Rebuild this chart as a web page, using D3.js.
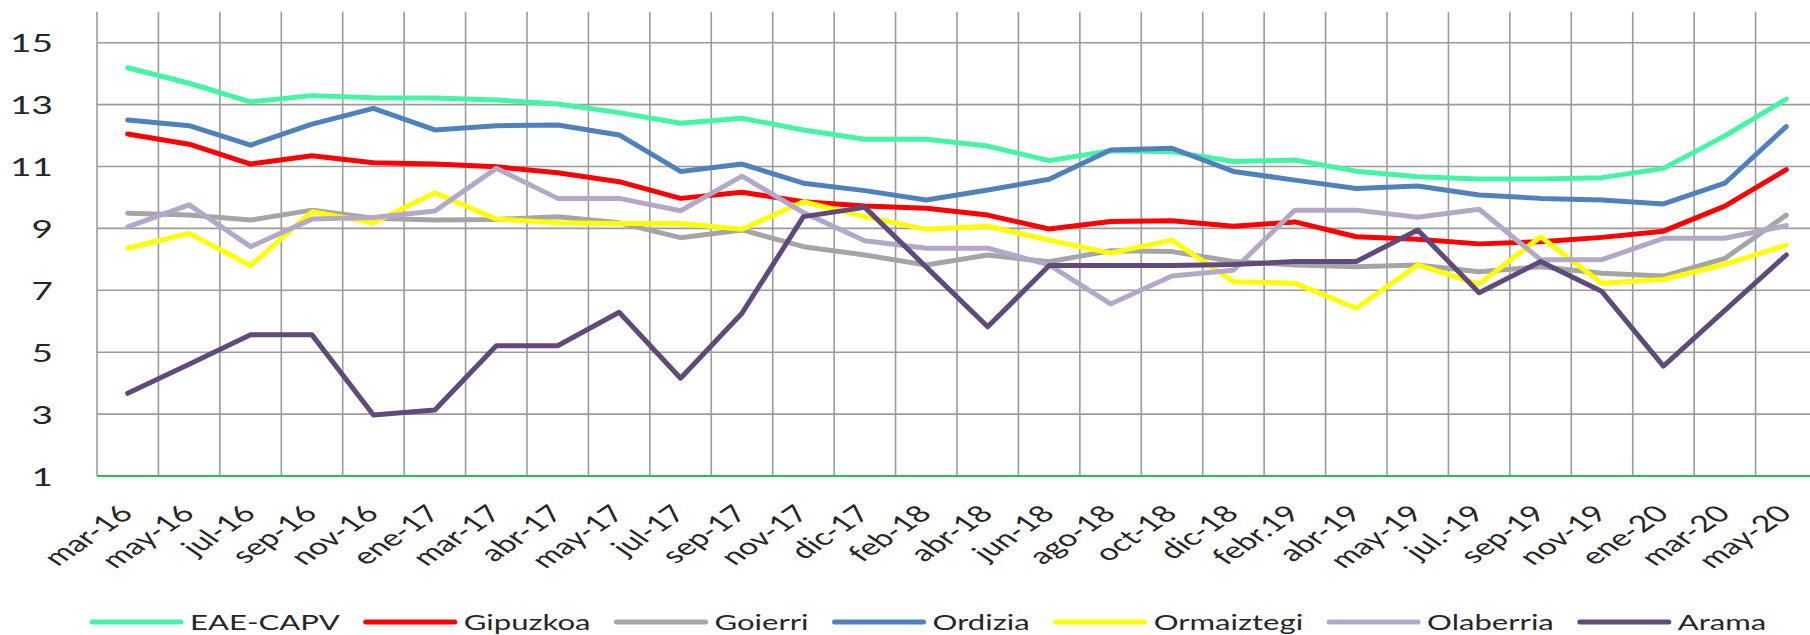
<!DOCTYPE html>
<html>
<head>
<meta charset="utf-8">
<script src="https://cdn.jsdelivr.net/npm/d3@7"></script>
<style>
  body { margin: 0; background: #fff; }
  svg { display: block; font-family: Lato, "Open Sans", sans-serif; }
</style>
</head>
<body>
<svg></svg>
<script>
let months = ["mar-16", "may-16", "jul-16", "sep-16", "nov-16", "ene-17", "mar-17", "abr-17", "may-17", "jul-17",
              "sep-17", "nov-17", "dic-17", "feb-18", "abr-18", "jun-18", "ago-18", "oct-18", "dic-18", "febr.19",
              "abr-19", "may-19", "jul.-19", "sep-19", "nov-19", "ene-20", "mar-20", "may-20"];

let eae =        [14.19, 13.69, 13.09, 13.29, 13.22, 13.21, 13.15, 13.02, 12.74, 12.40, 12.56, 12.18, 11.88, 11.88, 11.66, 11.19, 11.51, 11.48, 11.16, 11.21, 10.85, 10.67, 10.60, 10.60, 10.64, 10.94, 11.99, 13.18];
let gipuzkoa =   [12.05, 11.72, 11.08, 11.35, 11.12, 11.08, 10.99, 10.80, 10.51, 9.97, 10.17, 9.86, 9.72, 9.65, 9.43, 8.98, 9.22, 9.25, 9.07, 9.21, 8.73, 8.65, 8.50, 8.57, 8.71, 8.91, 9.72, 10.90];
let goierri =    [9.49, 9.43, 9.27, 9.59, 9.33, 9.27, 9.29, 9.38, 9.18, 8.70, 8.95, 8.41, 8.14, 7.82, 8.14, 7.92, 8.28, 8.25, 7.93, 7.82, 7.76, 7.82, 7.60, 7.76, 7.55, 7.46, 8.03, 9.43];
let ordizia =    [12.50, 12.32, 11.69, 12.37, 12.88, 12.18, 12.32, 12.34, 12.02, 10.84, 11.08, 10.46, 10.22, 9.92, 10.24, 10.59, 11.53, 11.59, 10.84, 10.56, 10.29, 10.37, 10.08, 9.97, 9.92, 9.79, 10.46, 12.29];
let ormaiztegi = [8.36, 8.84, 7.80, 9.54, 9.18, 10.15, 9.30, 9.18, 9.16, 9.16, 8.97, 9.86, 9.38, 8.97, 9.07, 8.62, 8.20, 8.62, 7.28, 7.23, 6.42, 7.82, 7.20, 8.73, 7.23, 7.35, 7.84, 8.46];
let olaberria =  [9.05, 9.76, 8.41, 9.30, 9.35, 9.56, 10.94, 9.97, 9.97, 9.57, 10.69, 9.51, 8.60, 8.36, 8.36, 7.82, 6.56, 7.46, 7.65, 9.59, 9.59, 9.36, 9.62, 7.99, 7.99, 8.68, 8.68, 9.09];
let arama =      [3.67, 4.61, 5.56, 5.56, 2.97, 3.13, 5.21, 5.21, 6.29, 4.16, 6.26, 9.38, 9.68, 7.75, 5.82, 7.80, 7.80, 7.80, 7.83, 7.93, 7.93, 8.95, 6.92, 7.93, 6.96, 4.55, 6.35, 8.14];

let seriesNames = ["EAE-CAPV", "Gipuzkoa", "Goierri", "Ordizia", "Ormaiztegi", "Olaberria", "Arama"];
let seriesValues = [eae, gipuzkoa, goierri, ordizia, ormaiztegi, olaberria, arama];
let seriesColors = ["#45f5a6", "#ff0000", "#a5a5a5", "#4f81bd", "#ffff00", "#b4a8c9", "#604a7b"];

let yTicks = [1, 3, 5, 7, 9, 11, 13, 15];

let width = 1810;
let height = 635;
// the original picture is stretched sideways, text too
let stretch = 1.48;

let svg = d3.select("svg")
            .attr("width", width)
            .attr("height", height);

let xScale = d3.scaleBand()
               .domain(months)
               .range([97, 1817])
               .padding(0);

let yScale = d3.scaleLinear()
               .domain([1, 16])
               .range([476, 11.75]);

let cx = m => xScale(m) + xScale.bandwidth() / 2;

// grid
let edges = months.map(m => xScale(m)).concat([xScale.range()[1]]);

svg.append("g")
   .selectAll("line")
   .data(edges)
   .enter()
   .append("line")
   .attr("x1", d => d)
   .attr("x2", d => d)
   .attr("y1", yScale(16))
   .attr("y2", yScale(1))
   .attr("stroke", "#9b9b9b")
   .attr("stroke-width", 1.6);

svg.append("g")
   .selectAll("line")
   .data(yTicks.filter(d => d > 1))
   .enter()
   .append("line")
   .attr("x1", xScale.range()[0])
   .attr("x2", width)
   .attr("y1", d => yScale(d))
   .attr("y2", d => yScale(d))
   .attr("stroke", "#9b9b9b")
   .attr("stroke-width", 1.6);

svg.append("line")
   .attr("x1", xScale.range()[0])
   .attr("x2", width)
   .attr("y1", yScale(1))
   .attr("y2", yScale(1))
   .attr("stroke", "#1fc15a")
   .attr("stroke-width", 2);

// y axis labels
let yAxis = d3.axisLeft(yScale)
              .tickValues(yTicks)
              .tickSize(0)
              .tickFormat(d3.format("d"));

let yG = svg.append("g")
            .attr("transform", `translate(${xScale.range()[0]}, 0)`)
            .call(yAxis);
yG.select(".domain").remove();
yG.selectAll("text")
  .attr("x", -44 / stretch)
  .attr("dy", "0.36em")
  .attr("transform", `scale(${stretch},1)`)
  .attr("fill", "#262626")
  .style("font-family", "Lato, sans-serif")
  .style("font-size", "25px");

// x labels
svg.append("g")
   .selectAll("text")
   .data(months)
   .enter()
   .append("text")
   .attr("transform", d => `translate(${cx(d) + 7}, 515) scale(${stretch},1) rotate(-45)`)
   .attr("text-anchor", "end")
   .attr("fill", "#262626")
   .style("font-size", "23px")
   .text(d => d);

// lines
let line = d3.line()
             .x((d, i) => cx(months[i]))
             .y(d => yScale(d));

svg.append("g")
   .selectAll("path")
   .data(seriesValues)
   .enter()
   .append("path")
   .attr("d", d => line(d))
   .attr("fill", "none")
   .attr("stroke", (d, i) => seriesColors[i])
   .attr("stroke-width", 5)
   .attr("stroke-linejoin", "round")
   .attr("stroke-linecap", "round");

// legend
let legend = svg.append("g");
let lx = 90;
let ly = 622;
seriesNames.forEach((name, i) => {
    legend.append("line")
          .attr("x1", lx + 2)
          .attr("x2", lx + 91)
          .attr("y1", ly)
          .attr("y2", ly)
          .attr("stroke", seriesColors[i])
          .attr("stroke-width", 5)
          .attr("stroke-linecap", "round");
    let t = legend.append("text")
                  .attr("transform", `translate(${lx + 100}, ${ly}) scale(${stretch},1)`)
                  .attr("dy", "0.36em")
                  .attr("fill", "#262626")
                  .style("font-size", "21px")
                  .text(name);
    let w = t.node().getComputedTextLength() * stretch;
    lx = lx + 100 + w + 24;
});
</script>
</body>
</html>
